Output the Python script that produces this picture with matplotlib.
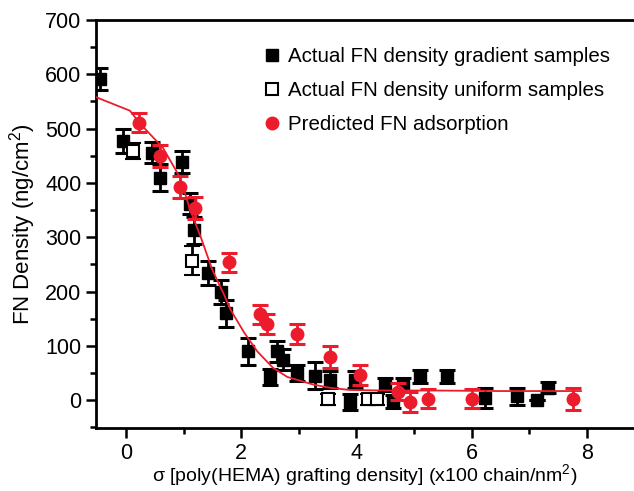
import numpy as np
import matplotlib
matplotlib.use('Agg')
import matplotlib.pyplot as plt
from matplotlib.lines import Line2D

plt.rcParams['font.family'] = ['Liberation Sans', 'DejaVu Sans']
plt.rcParams['mathtext.default'] = 'regular'

## Data ##
# Actual FN density, gradient samples
grad_x = [-0.45, -0.05, 0.45, 0.59, 0.97, 1.11, 1.18, 1.42, 1.65, 1.74, 2.12, 2.5, 2.62, 2.73,
          2.97, 3.28, 3.54, 3.89, 3.98, 4.5, 4.64, 4.81, 5.1, 5.57, 6.23, 6.79, 7.14, 7.33]
grad_y = [591, 478, 456, 410, 438, 362, 313, 235, 200, 160, 90, 43, 90, 75,
          50, 45, 38, -3, 38, 29, -3, 29, 43, 43, 4, 7, 1, 23]
grad_err = [20, 22, 20, 25, 20, 20, 25, 22, 22, 25, 25, 15, 20, 20,
            15, 25, 15, 15, 15, 12, 12, 12, 12, 12, 18, 15, 0, 10]

# Actual FN density, uniform samples
unif_x = [0.12, 1.15, 3.5, 4.2, 4.35]
unif_y = [459, 257, 2, 2, 2]
unif_err = [15, 27, 10, 10, 10]

# Predicted FN adsorption
pred_x = [0.23, 0.59, 0.94, 1.2, 1.79, 2.33, 2.45, 2.97, 3.54, 4.06, 4.72, 4.93, 5.24, 6.0, 7.76]
pred_y = [511, 450, 392, 354, 254, 158, 140, 122, 80, 47, 16, -3, 3, 3, 3]
pred_err = [18, 20, 20, 20, 18, 18, 18, 18, 20, 18, 15, 18, 18, 18, 20]

# fitted curve, points
fit_x = [-0.52, 0.07, 0.23, 0.64, 0.94, 1.11, 1.3, 1.5, 1.7, 1.82, 2.05, 2.28, 2.55, 2.8,
         3.25, 3.54, 3.89, 4.5, 5.33, 6.5, 7.9]
fit_y = [558, 533, 511, 465, 410, 352, 300, 240, 195, 166, 125, 90, 60, 43,
         29, 23, 19, 18, 18, 17, 17]

red = '#ec1c2c'

fig = plt.figure(figsize=(6.34, 4.91), dpi=100)
ax = fig.add_axes([96/634, 63/491, 538/634, 408/491])

ax.errorbar(grad_x, grad_y, yerr=grad_err, fmt='s', color='black', ms=8, elinewidth=2,
            capsize=5.5, capthick=2.2, zorder=3)
ax.errorbar(unif_x, unif_y, yerr=unif_err, fmt='s', color='black', mfc='white', mec='black',
            mew=1.5, ms=8, elinewidth=2, capsize=5.5, capthick=2.2, zorder=3)
ax.errorbar(pred_x, pred_y, yerr=pred_err, fmt='o', color=red, ms=9, elinewidth=2,
            capsize=6, capthick=2.2, zorder=4)
ax.plot(fit_x, fit_y, '-', color=red, lw=1.3, zorder=5)

ax.set_xlim(-0.52, 8.82)
ax.set_ylim(-51, 700)
ax.set_xticks([0, 2, 4, 6, 8])
ax.set_xticks(np.arange(1, 9, 2), minor=True)
ax.set_yticks(np.arange(0, 701, 100))
ax.set_yticks(np.arange(-50, 700, 100), minor=True)
ax.tick_params(which='major', direction='out', length=7, width=1.8, labelsize=15.5)
ax.tick_params(which='minor', direction='out', length=4, width=1.8)
ax.spines['right'].set_visible(False)
for s in ['left', 'top', 'bottom']:
    ax.spines[s].set_linewidth(2)

ax.set_xlabel(r'$\sigma$ [poly(HEMA) grafting density] (x100 chain/nm$^2$)', fontsize=14, labelpad=-1)
ax.set_ylabel('FN Density (ng/cm$^2$)', fontsize=16, labelpad=5)

handles = [Line2D([], [], ls='', marker='s', color='black', ms=8),
           Line2D([], [], ls='', marker='s', mfc='white', mec='black', mew=1.5, ms=8),
           Line2D([], [], ls='', marker='o', color=red, ms=9)]
labels = ['Actual FN density gradient samples', 'Actual FN density uniform samples',
          'Predicted FN adsorption']
ax.legend(handles, labels, loc='upper left', bbox_to_anchor=(264/634, 1 - 47/491),
          bbox_transform=fig.transFigure, frameon=False, fontsize=14.8, handlelength=0.8,
          handletextpad=0.35, labelspacing=0.74, borderpad=0, borderaxespad=0)

fig.savefig('out.png', dpi=100)
